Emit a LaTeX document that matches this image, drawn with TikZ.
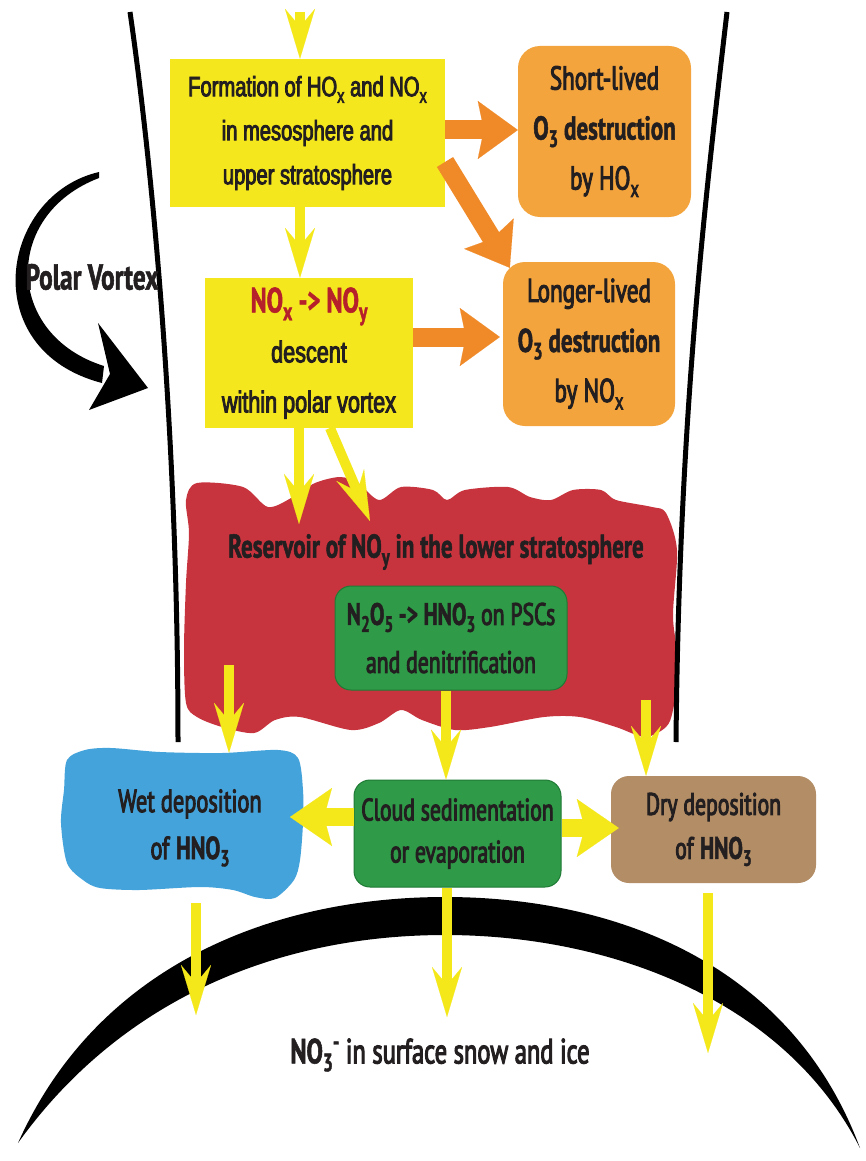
\documentclass[tikz,border=0pt]{standalone}
\usepackage{fontspec}
\setmainfont{PT Sans}[FakeStretch=0.7, UprightFeatures={FakeBold=3}, BoldFeatures={FakeBold=1.5}]
\newfontfamily\helv{Liberation Sans}[FakeStretch=0.72, UprightFeatures={FakeBold=3}]
\usetikzlibrary{arrows.meta,calc}
\definecolor{ybox}{HTML}{F5E71E}
\definecolor{yarr}{HTML}{F4E81A}
\definecolor{oarr}{HTML}{F08A28}
\definecolor{obox}{HTML}{F4A43C}
\definecolor{rres}{HTML}{C8343E}
\definecolor{gbox}{HTML}{2F9A47}
\definecolor{gedge}{HTML}{1F7A35}
\definecolor{tbox}{HTML}{B38D66}
\definecolor{bcl}{HTML}{45A3DB}
\definecolor{txt}{HTML}{231F20}
\definecolor{rtxt}{HTML}{B5202A}
\newcommand\sbs[1]{\raisebox{-0.45ex}{\scalebox{0.72}{#1}}}
\newcommand\sps[1]{\raisebox{0.75ex}{\scalebox{0.72}{#1}}}
\tikzset{
  ybx/.style={fill=ybox, inner sep=0pt, align=center, text=txt},
  obx/.style={fill=obox, rounded corners=22pt, inner sep=0pt, align=center, text=txt},
  gbx/.style={fill=gbox, draw=gedge, line width=1pt, rounded corners=16pt, inner sep=0pt, align=center, text=txt},
  tbx/.style={fill=tbox, rounded corners=18pt, inner sep=0pt, align=center, text=txt},
  lbl/.style={inner sep=0pt, align=center, text=txt},
  yarrow/.style={draw=yarr, line width=10pt, -{Stealth[length=50pt,width=30pt,inset=18pt,line width=0.1pt]}},
  yharrow/.style={draw=yarr, line width=18pt, -{Stealth[length=42pt,width=58pt,inset=8pt,line width=0.1pt]}},
  oarrow/.style={draw=oarr, line width=19pt, -{Stealth[length=40pt,width=58pt,inset=6pt,line width=0.1pt]}},
}
\begin{document}
\begin{tikzpicture}[x=1pt,y=-1pt]
\fill[white] (0,0) rectangle (866,1161);
\useasboundingbox (0,0) rectangle (866,1161);

% reservoir blob
\fill[rres] plot[smooth cycle, tension=0.5] coordinates {
(186,500) (197,483) (243,487) (268,507) (293,497) (315,483) (340,477) (358,483)
(379,500) (401,487) (433,490) (447,500) (465,490) (508,487) (530,497) (551,500)
(573,490) (601,490) (616,500) (652,507) (666,513) (677,550) (673,617) (679,667)
(673,710) (666,727) (645,737) (616,727) (580,717) (544,717) (490,727) (455,730)
(422,720) (401,710) (379,723) (351,730) (300,717) (275,720) (254,733) (222,727)
(197,717) (186,703) (184,650) (186,583) (189,533)};

% wet deposition cloud
\fill[bcl] plot[smooth cycle, tension=0.5] coordinates {
(67,760) (85,750) (111,748) (160,752) (222,753) (278,750) (298,758) (303,790)
(303,823) (300,860) (294,880) (275,898) (255,897) (233,890) (200,887) (139,890)
(100,888) (83,880) (67,863) (61,823) (64,790)};

% earth surface
\fill[black] (18,1143) .. controls (100,960) and (280,897) .. (445,897)
  .. controls (610,897) and (790,960) .. (860,1148)
  .. controls (785,1000) and (610,935) .. (445,935)
  .. controls (280,935) and (122,998) .. (18,1143) -- cycle;

% vortex walls
\draw[line width=5pt] (130,12) .. controls (150,150) and (178,420) .. (178,742);
\draw[line width=5pt] (727,12) .. controls (705,200) and (679,420) .. (676,742);

% polar vortex arrow
\fill[black] (99,172) .. controls (0,195) and (-25,350) .. (102,383)
  -- (104,366) .. controls (5,335) and (2,215) .. (99,178) -- cycle;
\fill[black] (148,388) -- (98,323) -- (110,374) -- (89,410) -- cycle;
\node[lbl, font=\bfseries\fontsize{36}{40}\selectfont] (pv) at (92,277) {Polar Vortex};

% boxes
\node[ybx, minimum width=275pt, minimum height=148pt, font=\helv\fontsize{28}{44}\selectfont] (form) at (307.5,133)
  {Formation of HO\sbs{x} and NO\sbs{x}\\ in mesosphere and\\ upper stratosphere};
\node[ybx, minimum width=208pt, minimum height=150pt, font=\helv\fontsize{30}{50}\selectfont] (desc) at (309,353)
  {{\rmfamily\bfseries\color{rtxt}\fontsize{35}{50}\selectfont NO\sbs{x} -> NO\sbs{y}}\\ descent\\ within polar vortex};
\node[obx, minimum width=173pt, minimum height=171pt, font=\fontsize{33}{50}\selectfont] (sl) at (604.5,131.5)
  {Short-lived\\ \textbf{O\sbs{3} destruction}\\ by HO\sbs{x}};
\node[obx, minimum width=172pt, minimum height=164pt, font=\fontsize{33}{50}\selectfont] (ll) at (589,344)
  {Longer-lived\\ \textbf{O\sbs{3} destruction}\\ by NO\sbs{x}};

\node[lbl, font=\bfseries\fontsize{33}{40}\selectfont] (res) at (436,552)
  {Reservoir of NO\sbs{y} in the lower stratosphere};
\node[gbx, minimum width=232pt, minimum height=104pt, font=\fontsize{31}{48}\selectfont] (pscs) at (451,638)
  {\textbf{N\sbs{2}O\sbs{5} -> HNO\sbs{3}} on PSCs\\ and denitrification};

\node[lbl, minimum width=226pt, minimum height=150pt, font=\fontsize{32}{47}\selectfont] (wet) at (190,828)
  {Wet deposition\\ of \textbf{HNO\sbs{3}}};
\node[gbx, minimum width=207pt, minimum height=107pt, font=\fontsize{31}{42}\selectfont] (cloud) at (457.5,833.5)
  {Cloud sedimentation\\ or evaporation};
\node[tbx, minimum width=205pt, minimum height=107pt, font=\fontsize{31}{44}\selectfont] (dry) at (713.5,829.5)
  {Dry deposition\\ of \textbf{HNO\sbs{3}}};
\node[lbl, font=\fontsize{35}{40}\selectfont] (snow) at (440,1055)
  {\textbf{NO\sbs{3}\sps{-}}\ in surface snow and ice};

% named coordinates
\coordinate (xtop) at (300,12);
\coordinate (xa) at (300,0);
\coordinate (resin1) at (299,524);
\coordinate (resin2) at (370,521);
\coordinate (desc2) at (330,428);
\coordinate (resout1) at (229,665);
\coordinate (xm) at (446,0);
\coordinate (resout3) at (646,700);
\coordinate (hl) at (0,817);
\coordinate (hr) at (0,828);
\coordinate (wetin) at (290,817);
\coordinate (h1) at (0,130);
\coordinate (h2) at (0,337);
\coordinate (d1) at (445,162);
\coordinate (g1) at (196,1015);
\coordinate (g2) at (447,1017);
\coordinate (g3) at (708,1053);

% yellow arrows
\draw[yarrow] (xtop) -- (form.north -| xa);
\draw[yarrow] (form.south -| xa) -- (desc.north -| xa);
\draw[yarrow] (desc.south -| resin1) -- (resin1);
\draw[yarrow] (desc2) -- (resin2);
\draw[yarrow] (resout1) -- (wet.north -| resout1);
\draw[yarrow] (pscs.south -| xm) -- (cloud.north -| xm);
\draw[yarrow] (resout3) -- (dry.north -| resout3);
\draw[yharrow] (cloud.west |- hl) -- (wetin);
\draw[yharrow] (cloud.east |- hr) -- ([xshift=8pt]dry.west |- hr);
\draw[yarrow] (wet.south -| g1) -- (g1);
\draw[yarrow] (cloud.south -| g2) -- (g2);
\draw[yarrow, shorten <=10pt] (dry.south -| g3) -- (g3);

% orange arrows
\draw[oarrow] (form.east |- h1) -- (sl.west |- h1);
\draw[oarrow] (d1) -- ([shift={(7,6)}]ll.north west);
\draw[oarrow] (desc.east |- h2) -- ([xshift=-3pt]ll.west |- h2);
\end{tikzpicture}
\end{document}
